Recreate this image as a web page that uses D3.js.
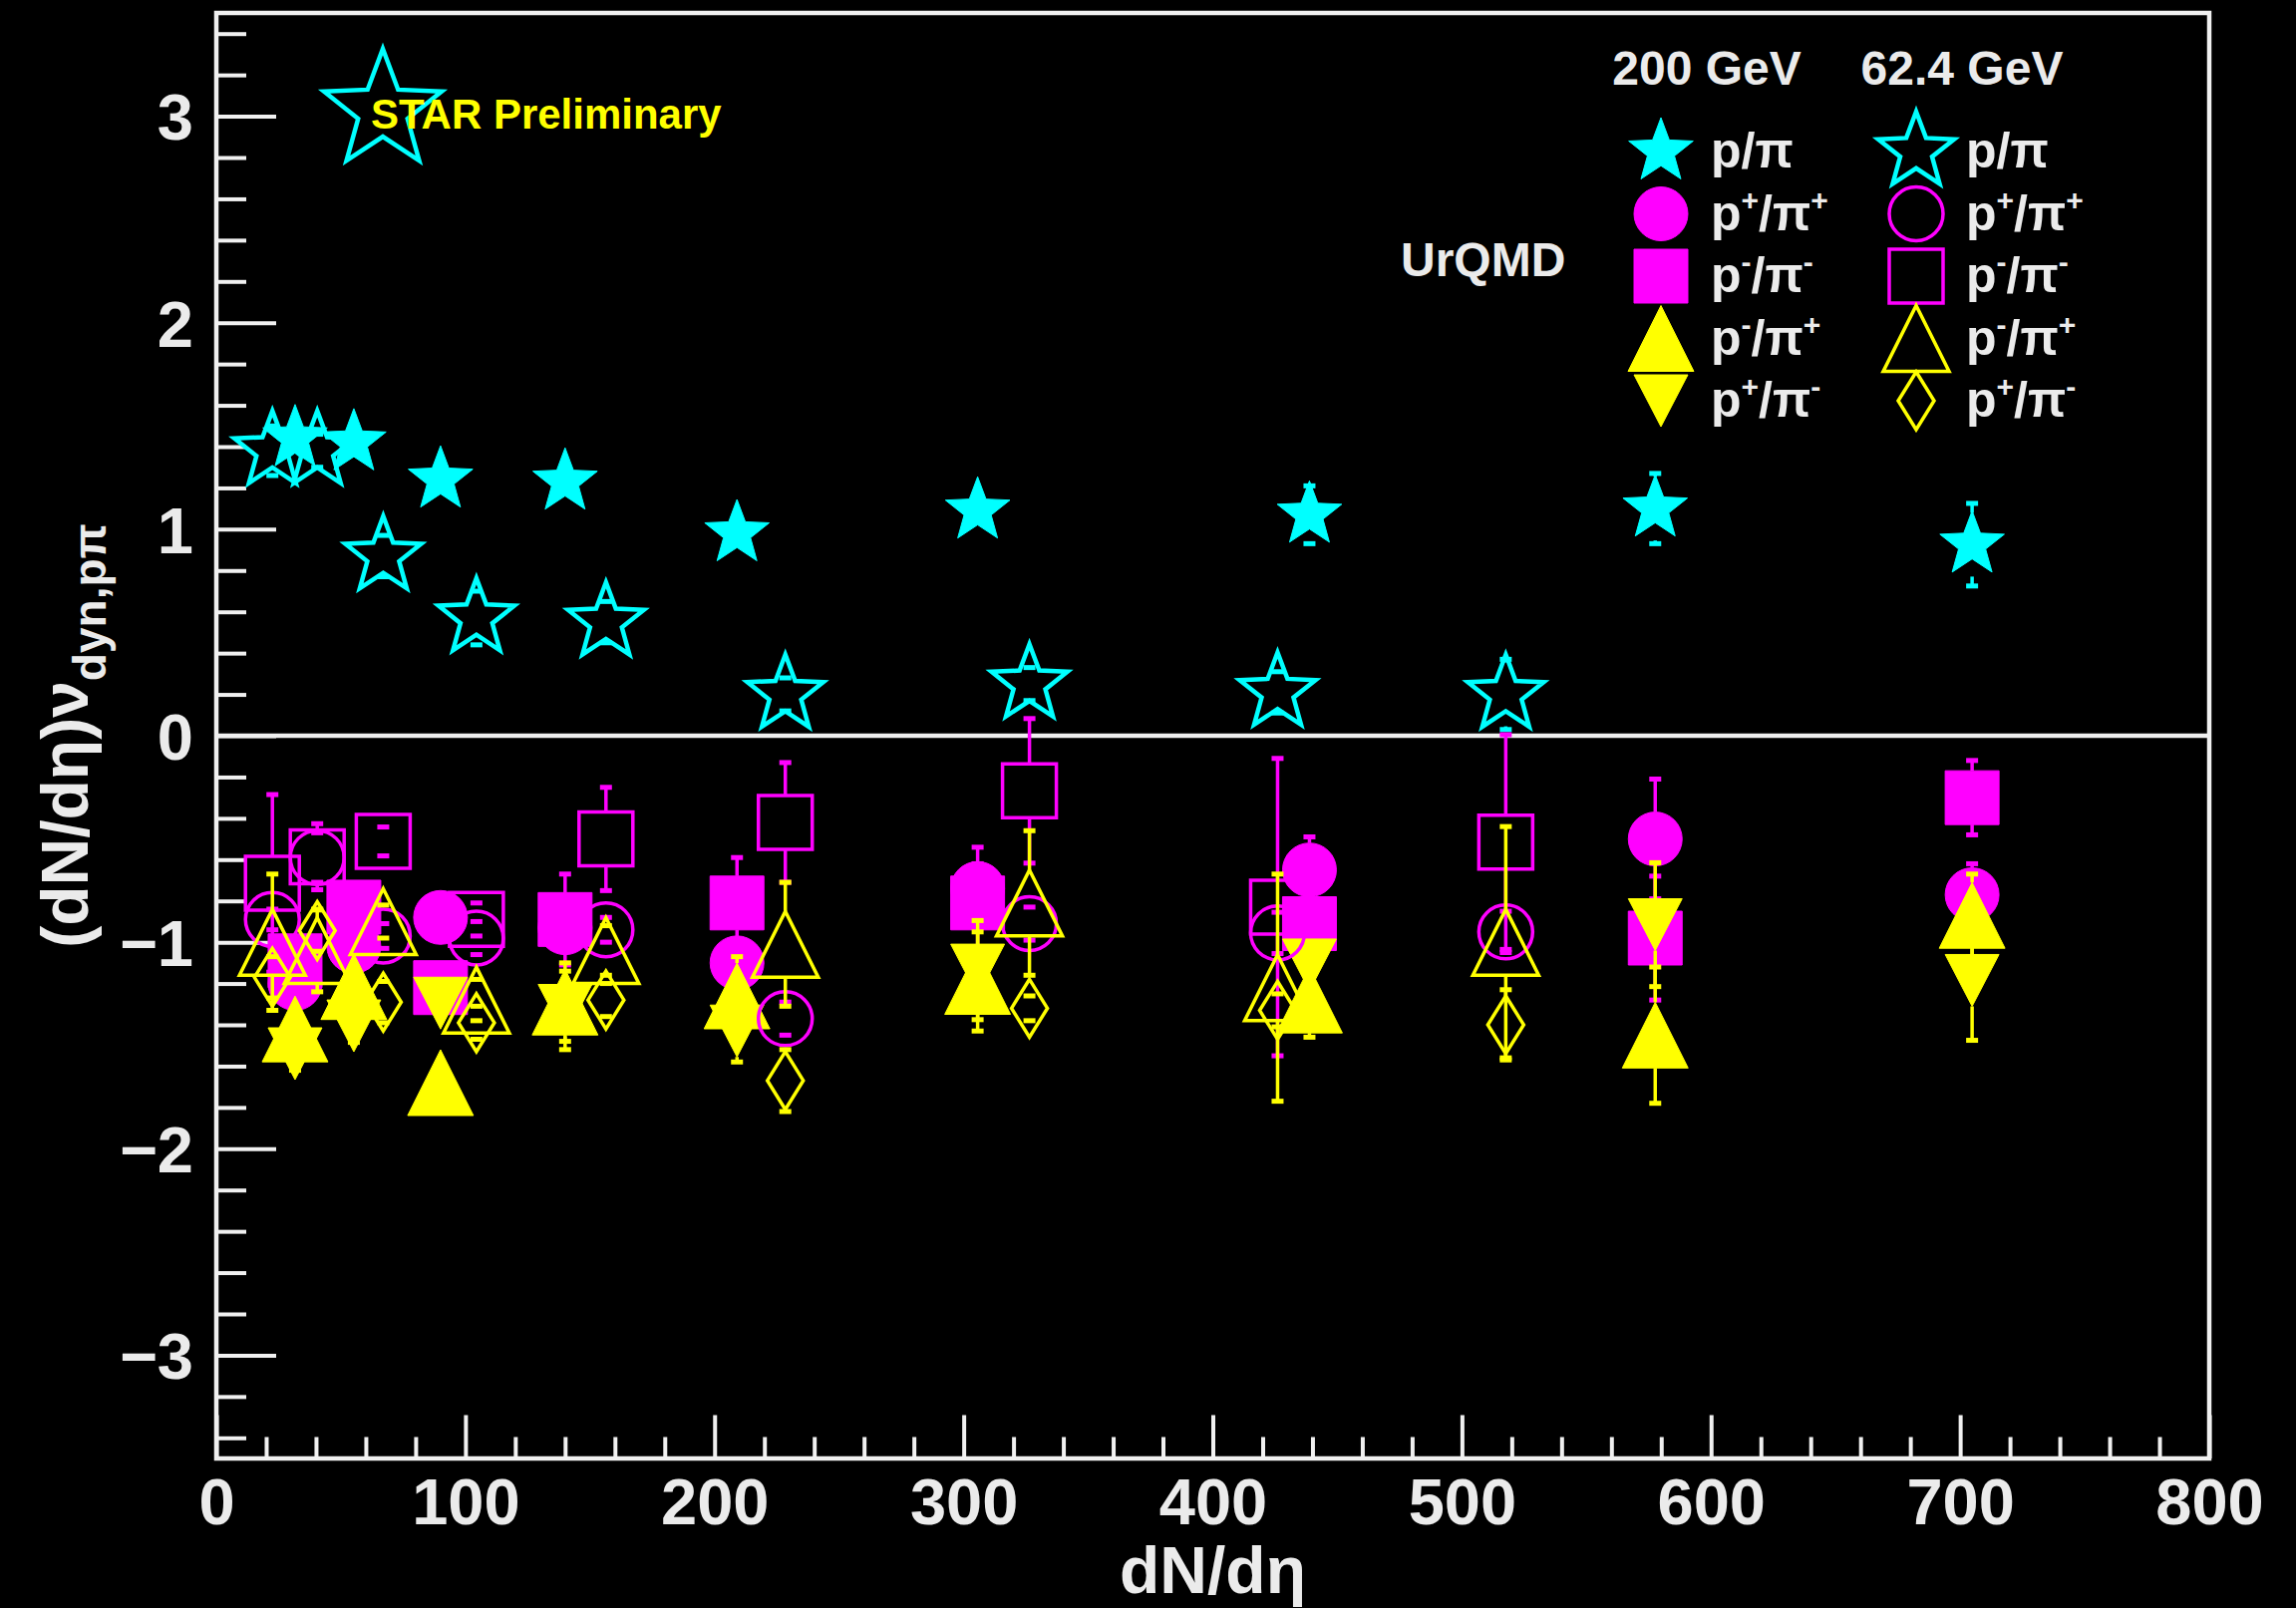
<!DOCTYPE html>
<html>
<head>
<meta charset="utf-8">
<script src="https://cdn.jsdelivr.net/npm/d3@7"></script>
<style>
  body { margin: 0; background: #000; }
  text { font-family: "Liberation Sans", Arial, Helvetica, sans-serif; font-weight: bold; fill: #ebebeb; }
</style>
</head>
<body>
<div id="chart"></div>
<script>
// axis tick labels
var xTicks = [0, 100, 200, 300, 400, 500, 600, 700, 800];
var yTicks = [-3, -2, -1, 0, 1, 2, 3];

// 200 GeV (filled markers), x = dN/deta of each centrality bin
var dndeta200 = [31.6, 55.2, 90, 140, 209, 305.6, 438.8, 577.6, 704.8];
var pPi200       = [1.44, 1.42, 1.24, 1.23, 0.98, 1.09, 1.07, 1.10, 0.925];
var pPi200Err    = [0.04, 0.04, 0.04, 0.04, 0.04, 0.04, 0.14, 0.17, 0.20];
var ppPip200     = [-1.20, -1.02, -0.88, -0.93, -1.10, -0.74, -0.65, -0.50, -0.77];
var ppPip200Err  = [0.06, 0.06, 0.06, 0.08, 0.10, 0.12, 0.16, 0.29, 0.15];
var pmPim200     = [-1.09, -0.83, -1.22, -0.89, -0.81, -0.81, -0.91, -0.98, -0.30];
var pmPim200Err  = [0.06, 0.06, 0.06, 0.22, 0.22, 0.27, 0.10, 0.30, 0.18];
var pmPip200     = [-1.42, -1.215, -1.68, -1.29, -1.26, -1.19, -1.28, -1.45, -0.87];
var pmPip200Err  = [0.08, 0.08, 0.06, 0.19, 0.19, 0.24, 0.18, 0.33, 0.20];
var ppPim200     = [-1.54, -1.405, -1.295, -1.33, -1.43, -1.135, -1.11, -0.915, -1.185];
var ppPim200Err  = [0.08, 0.08, 0.06, 0.19, 0.15, 0.24, 0.10, 0.30, 0.29];

// 62.4 GeV (open markers)
var dndeta62 = [22.5, 40.5, 67, 104.4, 156.4, 228.4, 326.4, 426, 517.6];
var pPi62       = [1.38, 1.38, 0.87, 0.57, 0.55, 0.20, 0.25, 0.21, 0.20];
var pPi62Err    = [0.12, 0.08, 0.10, 0.13, 0.10, 0.08, 0.08, 0.10, 0.17];
var ppPip62     = [-0.89, -0.59, -0.97, -0.98, -0.94, -1.37, -0.91, -0.955, -0.95];
var ppPip62Err  = [0.05, 0.12, 0.06, 0.08, 0.06, 0.08, 0.08, 0.10, 0.10];
var pmPim62     = [-0.715, -0.586, -0.512, -0.89, -0.50, -0.42, -0.267, -0.83, -0.515];
var pmPim62Err  = [0.43, 0.16, 0.07, 0.08, 0.25, 0.29, 0.35, 0.72, 0.52];
var pmPip62     = [-1.00, -1.04, -0.90, -1.28, -1.04, -1.01, -0.81, -1.22, -1.00];
var pmPip62Err  = [0.33, 0.20, 0.08, 0.10, 0.12, 0.30, 0.35, 0.55, 0.56];
var ppPim62     = [-1.17, -0.944, -1.29, -1.39, -1.28, -1.67, -1.32, -1.33, -1.40];
var ppPim62Err  = [0.10, 0.10, 0.10, 0.08, 0.08, 0.15, 0.06, 0.08, 0.17];

// legend text
var energies = ["200 GeV", "62.4 GeV"];
var legendSups = [null, ["+", "+"], ["-", "-"], ["-", "+"], ["+", "-"]];

var cyan = "#00ffff", magenta = "#ff00ff", yellow = "#ffff00";

// set the dimensions and margins of the graph
var margin = {top: 13, right: 87, bottom: 150, left: 217},
    width = 2303 - margin.left - margin.right,
    height = 1613 - margin.top - margin.bottom;

var root = d3.select("#chart")
  .append("svg")
    .attr("width", width + margin.left + margin.right)
    .attr("height", height + margin.top + margin.bottom)
    .style("background", "#000");

var svg = root.append("g")
    .attr("transform", "translate(" + margin.left + "," + margin.top + ")");

var x = d3.scaleLinear().domain([0, 800]).range([0, width]);
var y = d3.scaleLinear().domain([-3.5, 3.5]).range([height, 0]);

// marker shapes (ROOT style)
function starPath(R) {
  var pts = [];
  for (var i = 0; i < 10; i++) {
    var a = -Math.PI / 2 + i * Math.PI / 5, rr = i % 2 ? R * 0.42 : R;
    pts.push([rr * Math.cos(a), rr * Math.sin(a)]);
  }
  return "M" + pts.join("L") + "Z";
}
var shapes = {
  star: function(f) { return starPath(f ? 34 : 40); },
  circle: function() { return "M27,0A27,27 0 1,1 -27,0A27,27 0 1,1 27,0Z"; },
  square: function() { return "M-27,-27H27V27H-27Z"; },
  up: function() { return "M0,-33L33,33L-33,33Z"; },
  down: function() { return "M0,26L27,-26L-27,-26Z"; },
  diamond: function() { return "M0,-29L18,0L0,29L-18,0Z"; }
};
var halfH = {star: 32, circle: 27, square: 27, up: 33, down: 26, diamond: 29};

function drawMarker(sel, shape, filled, color) {
  sel.attr("d", shapes[shape](filled))
    .attr("fill", filled ? color : "none")
    .attr("stroke", color)
    .attr("stroke-width", filled ? 1 : (shape == "star" ? 4.5 : 3.5))
    .attr("stroke-linejoin", "miter");
}

// x axis: minor then major ticks (inside the frame)
svg.append("g")
  .attr("transform", "translate(0," + height + ")")
  .call(d3.axisBottom(x).tickValues(d3.range(0, 801, 20).filter(function(v) { return v % 100; }))
    .tickSize(-21.5).tickFormat(""))
  .call(function(g) { g.select(".domain").remove(); });
svg.append("g")
  .attr("transform", "translate(0," + height + ")")
  .call(d3.axisBottom(x).tickValues(xTicks).tickSize(-43.5).tickPadding(20).tickFormat(d3.format("d")))
  .call(function(g) { g.select(".domain").remove(); })
  .selectAll("text").style("font-size", "65px").attr("fill", null);

// y axis
svg.append("g")
  .call(d3.axisLeft(y).tickValues(d3.range(-34, 35, 2).map(function(v) { return v / 10; })
      .filter(function(v) { return Math.abs(v - Math.round(v)) > 1e-6; }))
    .tickSize(-30).tickFormat(""))
  .call(function(g) { g.select(".domain").remove(); });
svg.append("g")
  .call(d3.axisLeft(y).tickValues(yTicks).tickSize(-60).tickPadding(23).tickFormat(d3.format("d")))
  .call(function(g) { g.select(".domain").remove(); })
  .selectAll("text").style("font-size", "65px").attr("fill", null).attr("dy", "0.36em");

svg.selectAll(".tick line").attr("stroke", "#f0f0f0").attr("stroke-width", 4);

// frame and zero line
svg.append("rect")
  .attr("width", width).attr("height", height)
  .attr("fill", "none").attr("stroke", "#f0f0f0").attr("stroke-width", 4.5);
svg.append("line")
  .attr("x1", 0).attr("x2", width).attr("y1", y(0)).attr("y2", y(0))
  .attr("stroke", "#f0f0f0").attr("stroke-width", 4.5);

// axis titles
root.append("text")
  .attr("x", margin.left + width / 2).attr("y", 1598)
  .attr("text-anchor", "middle").style("font-size", "66px")
  .text("dN/d\u03b7");
var ytitle = root.append("text")
  .attr("transform", "translate(88," + (margin.top + height / 2) + ") rotate(-90)")
  .attr("text-anchor", "middle").style("font-size", "66px");
ytitle.append("tspan").text("(dN/d\u03b7)\u03bd");
ytitle.append("tspan").attr("dy", 18).style("font-size", "46px").text("dyn,p\u03c0");

// series, in drawing order
var series = [
  {x: dndeta62, y: pPi62, e: pPi62Err, shape: "star", filled: false, color: cyan},
  {x: dndeta200, y: pPi200, e: pPi200Err, shape: "star", filled: true, color: cyan},
  {x: dndeta200, y: ppPip200, e: ppPip200Err, shape: "circle", filled: true, color: magenta},
  {x: dndeta200, y: pmPim200, e: pmPim200Err, shape: "square", filled: true, color: magenta},
  {x: dndeta200, y: pmPip200, e: pmPip200Err, shape: "up", filled: true, color: yellow},
  {x: dndeta200, y: ppPim200, e: ppPim200Err, shape: "down", filled: true, color: yellow},
  {x: dndeta62, y: ppPip62, e: ppPip62Err, shape: "circle", filled: false, color: magenta},
  {x: dndeta62, y: pmPim62, e: pmPim62Err, shape: "square", filled: false, color: magenta},
  {x: dndeta62, y: pmPip62, e: pmPip62Err, shape: "up", filled: false, color: yellow},
  {x: dndeta62, y: ppPim62, e: ppPim62Err, shape: "diamond", filled: false, color: yellow}
];

series.forEach(function(s) {
  var pts = s.x.map(function(xv, i) { return {x: xv, y: s.y[i], e: s.e[i]}; });
  var gap = halfH[s.shape];
  var g = svg.append("g");

  // error bars (from marker edge outward) with small caps
  var segs = [];
  pts.forEach(function(d) {
    var cy = y(d.y), top = y(d.y + d.e), bot = y(d.y - d.e);
    if (cy - top > 8) segs.push({x: d.x, from: cy - Math.min(gap, cy - top), to: top});
    if (bot - cy > 8) segs.push({x: d.x, from: cy + Math.min(gap, bot - cy), to: bot});
  });
  g.selectAll("line.err").data(segs).enter().append("line")
    .attr("x1", function(d) { return x(d.x); }).attr("x2", function(d) { return x(d.x); })
    .attr("y1", function(d) { return d.from; }).attr("y2", function(d) { return d.to; })
    .attr("stroke", s.color).attr("stroke-width", 3.5);
  g.selectAll("line.cap").data(segs).enter().append("line")
    .attr("x1", function(d) { return x(d.x) - 6; }).attr("x2", function(d) { return x(d.x) + 6; })
    .attr("y1", function(d) { return d.to; }).attr("y2", function(d) { return d.to; })
    .attr("stroke", s.color).attr("stroke-width", 5);

  g.selectAll("path").data(pts).enter().append("path")
    .attr("transform", function(d) { return "translate(" + x(d.x) + "," + y(d.y) + ")"; })
    .call(drawMarker, s.shape, s.filled, s.color);
});

// STAR Preliminary tag
root.append("path")
  .attr("transform", "translate(384,111)")
  .attr("d", starPath(62))
  .attr("fill", "none").attr("stroke", cyan).attr("stroke-width", 4.5);
root.append("text")
  .attr("x", 372).attr("y", 129)
  .style("font-size", "42px").style("fill", yellow)
  .text("STAR Preliminary");

// legend
var colX = [1666, 1922];
energies.forEach(function(t, c) {
  root.append("text")
    .attr("x", colX[c] + 46).attr("y", 85)
    .attr("text-anchor", "middle").style("font-size", "48px")
    .text(t);
});
root.append("text")
  .attr("x", 1405).attr("y", 277)
  .style("font-size", "48px")
  .text("UrQMD");

var legendShapes = [["star", "circle", "square", "up", "down"], ["star", "circle", "square", "up", "diamond"]];
var legendColors = [cyan, magenta, magenta, yellow, yellow];
[0, 1].forEach(function(c) {
  legendSups.forEach(function(sup, r) {
    var cy = 152 + r * 62.5;
    root.append("path")
      .attr("transform", "translate(" + colX[c] + "," + cy + ")")
      .call(drawMarker, legendShapes[c][r], c == 0, legendColors[r]);
    var t = root.append("text")
      .attr("x", colX[c] + 50).attr("y", cy + 16)
      .style("font-size", "50px");
    if (!sup) {
      t.text("p/\u03c0");
    } else {
      t.append("tspan").text("p");
      t.append("tspan").attr("dy", -20).style("font-size", "30px").text(sup[0]);
      t.append("tspan").attr("dy", 20).text("/\u03c0");
      t.append("tspan").attr("dy", -20).style("font-size", "30px").text(sup[1]);
    }
  });
});
</script>
</body>
</html>
